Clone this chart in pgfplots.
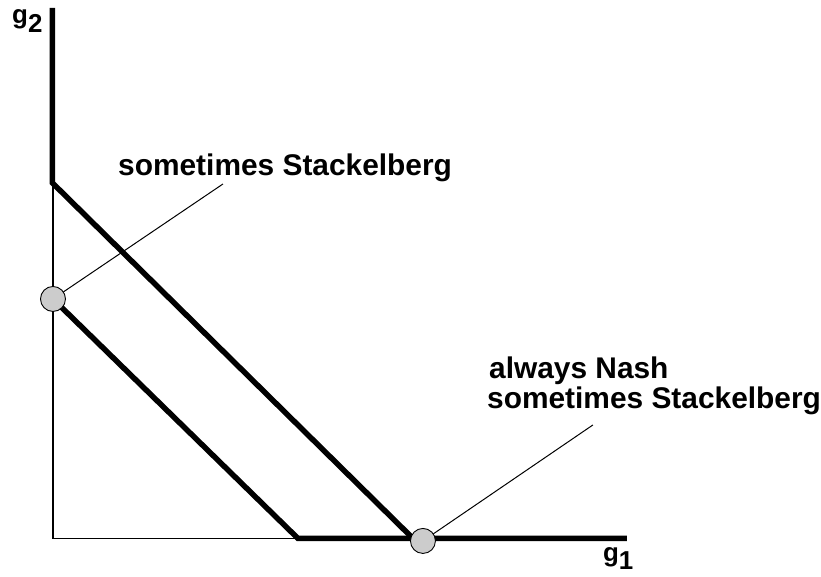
\documentclass[border=0pt]{standalone}
\usepackage{pgfplots}
\pgfplotsset{compat=1.18}
\usepackage{fontspec}
\setmainfont{Liberation Sans}
\definecolor{circlegray}{RGB}{204,204,204}
\begin{document}
\begin{tikzpicture}
\begin{axis}[
  width=821bp, height=577bp, scale only axis,
  xmin=0, xmax=821, ymin=0, ymax=577, y dir=reverse,
  hide axis, clip=false,
]
\path (axis cs:0,0) rectangle (axis cs:821,577);
% thin axes
\addplot[black, line width=1.3bp] coordinates {(53,183) (53,538.5) (298,538.5)};
% outer thick frontier
\addplot[black, line width=5.5bp, line join=miter] coordinates {(52.5,8) (52.5,183) (413,538.5) (627,538.5)};
% inner thick frontier
\addplot[black, line width=5.5bp, line join=miter] coordinates {(53,299) (298,538.5) (413,538.5)};
% callout lines
\addplot[black, line width=1bp] coordinates {(53,299) (223,184)};
\addplot[black, line width=1bp] coordinates {(423,541) (593,425)};
% circles
\addplot[only marks, mark=*, mark size=12.5bp, mark options={fill=circlegray, draw=black, line width=0.9bp}] coordinates {(53,299) (423,541)};
% labels
\node[anchor=base west, inner sep=0pt, font=\fontsize{30}{34}\selectfont\bfseries] at (axis cs:118,176) {sometimes Stackelberg};
\node[anchor=base west, inner sep=0pt, font=\fontsize{30}{34}\selectfont\bfseries] at (axis cs:489,379) {always Nash};
\node[anchor=base west, inner sep=0pt, font=\fontsize{30}{34}\selectfont\bfseries] at (axis cs:487,409) {sometimes Stackelberg};
\node[anchor=base west, inner sep=0pt, font=\fontsize{26}{30}\selectfont\bfseries] at (axis cs:12,24) {g\raisebox{-9bp}{2}};
\node[anchor=base west, inner sep=0pt, font=\fontsize{26}{30}\selectfont\bfseries] at (axis cs:603,562) {g\raisebox{-8bp}{1}};
\end{axis}
\end{tikzpicture}
\end{document}
